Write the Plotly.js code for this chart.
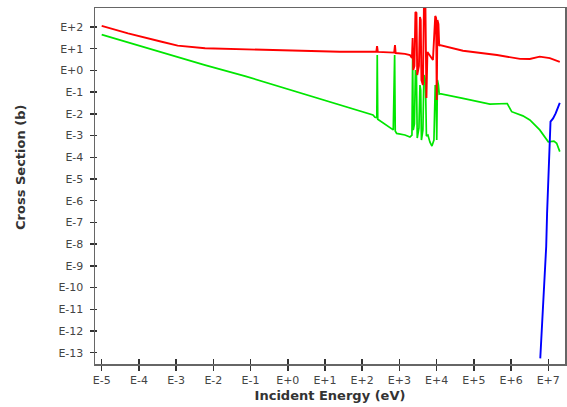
<!DOCTYPE html>
<html>
<head>
<meta charset="utf-8">
<script src="https://cdn.plot.ly/plotly-3.0.1.min.js"></script>
<style>html,body{margin:0;padding:0;background:#fff}#chart{width:567px;height:407px}</style>
</head>
<body>
<div id="chart"></div>
<script>
// Total cross section (red)
const totalE = [1e-5, 5.1e-5, 4.1e-4, 1.1e-3, 6.0e-3, 0.071, 1.15, 25, 240, 251, 263, 724, 760, 794, 1410,
  1919, 2173, 2270, 2355, 2535, 2698, 2871, 3013, 3350, 3565, 3741, 3908, 4285, 4560, 5012, 5321, 5662,
  7962, 9183, 9705, 10070, 10520, 11190, 11750, 12270,
  5.1e4, 4.2e5, 1.74e6, 3.2e6, 5.9e6, 1.1e7, 2.04e7];
const totalXS = [112, 51, 21, 13.8, 10.5, 9.3, 8.1, 7.2, 7.2, 13.2, 7.1, 6.6, 14.8, 6.3, 5.8,
  5.13, 3.73, 31.1, 1.04, 1.60, 491, 442, 0.615, 1.60, 289, 210, 0.362, 0.213, 675, 675, 0.0537, 7.05,
  3.02, 321, 260, 0.0435, 210, 137, 13.3, 14.8,
  8.1, 5.1, 3.4, 3.36, 4.3, 3.7, 2.5];

// Elastic cross section (green)
const elasticE = [1e-5, 5.1e-5, 4.1e-4, 6.0e-3, 0.071, 1.15, 25, 195, 221, 247, 254, 262, 684, 745, 773, 843, 1409,
  1919, 2173, 2270, 2355, 2535, 2698, 2871, 3013, 3350, 3565, 3741, 3908, 4285, 4560, 5012, 5321, 5848,
  6622, 7482, 8472, 9183, 9705, 10070, 10520, 11190, 11750, 12270,
  5.1e4, 2.7e5, 7.9e5, 1.04e6, 2.08e6, 3.2e6, 5.9e6, 1.0e7, 1.42e7, 1.68e7, 2.04e7];
const elasticXS = [44.7, 19.5, 6.8, 1.76, 0.55, 0.126, 0.0257, 8.9e-3, 6.9e-3, 6.6e-3, 5.13, 5.6e-3, 1.82e-3, 5.13, 1.62e-3, 1.26e-3, 1.06e-3,
  8.6e-4, 1.06e-3, 4.15, 1.80e-3, 3.4e-3, 1.04, 0.615, 7.7e-4, 2.23e-3, 0.213, 0.125, 6.2e-4, 1.80e-3, 0.615, 0.362, 9.5e-4, 1.06e-3,
  5.0e-4, 3.3e-4, 6.2e-4, 0.213, 0.125, 6.2e-4, 0.362, 0.213, 0.082, 0.085,
  0.052, 0.028, 0.030, 0.0126, 8.1e-3, 5.2e-3, 1.82e-3, 5.2e-4, 5.6e-4, 4.4e-4, 1.82e-4];

// Threshold reaction (blue)
const threshE = [6.1e6, 7.1e6, 8.1e6, 8.8e6, 9.3e6, 1.0e7, 1.05e7, 1.11e7, 1.15e7, 1.35e7, 1.58e7, 2.04e7];
const threshXS = [5.5e-14, 6.5e-12, 2.2e-10, 7.6e-9, 2.6e-7, 8.9e-6, 3.1e-4, 3.9e-3, 4.4e-3, 6.2e-3, 0.0105, 0.032];

const xTickExp = [-5,-4,-3,-2,-1,0,1,2,3,4,5,6,7];
const xTickText = ['E-5','E-4','E-3','E-2','E-1','E+0','E+1','E+2','E+3','E+4','E+5','E+6','E+7'];
const yTickExp = [2,1,0,-1,-2,-3,-4,-5,-6,-7,-8,-9,-10,-11,-12,-13];
const yTickText = ['E+2','E+1','E+0','E-1','E-2','E-3','E-4','E-5','E-6','E-7','E-8','E-9','E-10','E-11','E-12','E-13'];

const xTickVals = xTickExp.map(e => Math.pow(10, e));
const yTickVals = yTickExp.map(e => Math.pow(10, e));

const xr = [-5.18, 7.45], yr = [-13.52, 2.875];
const fam = 'DejaVu Sans, Verdana, sans-serif';
const tickFont = {family: fam, size: 11, color: '#444'};
const titleFont = {family: fam, size: 13, color: '#333', weight: 'bold'};

const traces = [
  {x: elasticE, y: elasticXS, type: 'scatter', mode: 'lines', line: {color: '#00e600', width: 1.7}, hoverinfo: 'skip'},
  {x: totalE, y: totalXS, type: 'scatter', mode: 'lines', line: {color: '#ff0000', width: 1.9}, hoverinfo: 'skip'},
  {x: threshE, y: threshXS, type: 'scatter', mode: 'lines', line: {color: '#0000ff', width: 1.9}, hoverinfo: 'skip'},
  {x: [xTickVals[0]], y: [yTickVals[0]], xaxis: 'x2', yaxis: 'y2', type: 'scatter', mode: 'markers', marker: {opacity: 0}, hoverinfo: 'skip'}
];

const layout = {
  width: 567, height: 407,
  margin: {l: 95, r: 2, t: 8, b: 43},
  paper_bgcolor: '#fff', plot_bgcolor: '#fff',
  showlegend: false,
  xaxis: {
    type: 'log', range: xr, tickvals: xTickVals, ticktext: xTickText,
    ticks: 'outside', ticklen: 5, tickwidth: 1.5, tickcolor: '#333',
    showline: true, linecolor: '#666', linewidth: 1.5, mirror: true,
    showgrid: false, zeroline: false, tickfont: tickFont,
    title: {text: 'Incident Energy (eV)', font: titleFont, standoff: 5}
  },
  yaxis: {
    type: 'log', range: yr, tickvals: yTickVals, ticktext: yTickText,
    ticks: 'outside', ticklen: 4, tickwidth: 1.5, tickcolor: '#333',
    showline: true, linecolor: '#666', linewidth: 1.5, mirror: true,
    showgrid: false, zeroline: false, tickfont: tickFont, ticklabelstandoff: 4
  },
  xaxis2: {
    type: 'log', range: xr, tickvals: xTickVals, overlaying: 'x', anchor: 'y2',
    ticks: 'inside', ticklen: 5, tickwidth: 1.5, tickcolor: '#333',
    showticklabels: false, showline: false, showgrid: false, zeroline: false
  },
  yaxis2: {
    type: 'log', range: yr, tickvals: yTickVals, overlaying: 'y', anchor: 'x2',
    ticks: 'inside', ticklen: 2, tickwidth: 1.5, tickcolor: '#333',
    showticklabels: false, showline: false, showgrid: false, zeroline: false
  },
  annotations: [{
    text: 'Cross Section (b)', textangle: -90, showarrow: false,
    xref: 'paper', yref: 'paper', x: -0.16, y: 0.553, xanchor: 'center', yanchor: 'middle',
    font: titleFont
  }]
};

Plotly.newPlot('chart', traces, layout, {staticPlot: true, displayModeBar: false});
</script>
</body>
</html>
